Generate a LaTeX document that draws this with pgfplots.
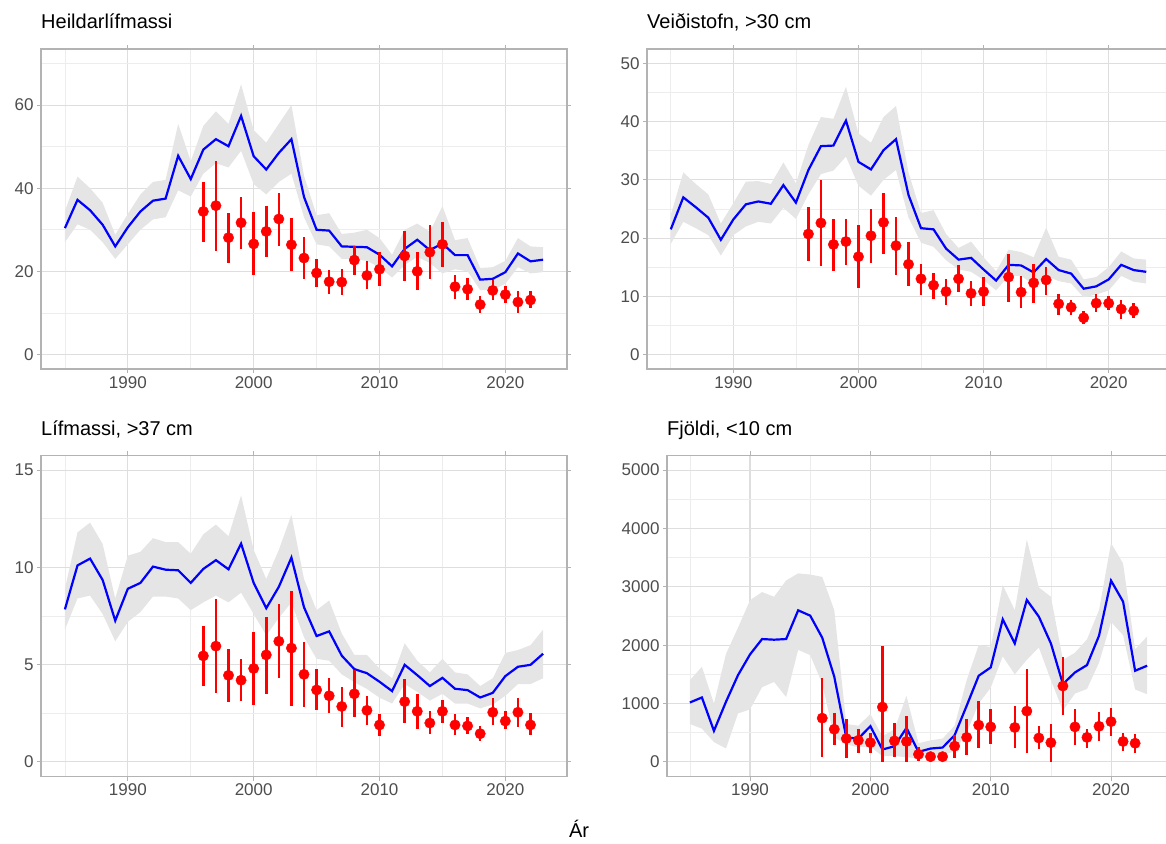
\documentclass[border=0pt]{standalone}
\usepackage{pgfplots}
\pgfplotsset{compat=1.18}
\usepackage{pgfplotstable}
\usepgfplotslibrary{fillbetween}
\usepackage{fontspec}
\setmainfont{Liberation Sans}

\definecolor{ribbon}{HTML}{E5E5E5}
\definecolor{gridmaj}{HTML}{DEDEDE}
\definecolor{gridmin}{HTML}{EDEDED}
\definecolor{border}{HTML}{B3B3B3}
\definecolor{ticktxt}{HTML}{4D4D4D}
\definecolor{lineblue}{HTML}{0000FF}
\definecolor{ptred}{HTML}{FF0000}

% model estimate with ribbon (yr, est, lo, hi)
\pgfplotstableread{
yr est lo hi
1985 30.4 27.0 34.5
1986 37.2 31.3 42.8
1987 34.7 30.0 40.0
1988 31.2 27.0 36.5
1989 26.0 23.0 28.8
1990 30.6 26.5 33.8
1991 34.4 30.0 38.5
1992 37.0 32.5 41.5
1993 37.5 33.0 42.0
1994 47.8 39.5 55.5
1995 42.2 38.0 46.5
1996 49.3 43.5 55.0
1997 51.8 46.0 58.5
1998 50.1 45.0 55.5
1999 57.4 49.0 65.0
2000 47.7 41.0 54.0
2001 44.5 38.5 51.0
2002 48.5 41.5 55.5
2003 51.8 43.5 60.0
2004 37.9 33.0 43.0
2005 30.0 26.5 33.5
2006 29.8 26.0 34.0
2007 26.0 23.0 29.0
2008 25.9 23.0 29.3
2009 25.8 22.5 30.0
2010 24.0 21.0 28.0
2011 21.2 18.5 24.0
2012 25.4 21.5 30.0
2013 27.6 23.5 31.5
2014 25.1 22.0 29.5
2015 26.7 19.5 35.7
2016 23.9 20.5 27.5
2017 23.9 20.0 28.0
2018 18.0 15.5 20.8
2019 18.2 15.5 21.0
2020 19.8 17.0 22.5
2021 24.3 21.0 28.0
2022 22.4 19.5 26.0
2023 22.8 19.8 25.8
}\lineA
\pgfplotstableread{
yr val lo hi
1996 34.4 27.0 41.5
1997 35.8 25.0 46.6
1998 28.1 22.0 34.0
1999 31.7 25.3 38.0
2000 26.6 19.0 34.2
2001 29.6 23.5 35.7
2002 32.6 26.0 38.8
2003 26.4 20.2 32.8
2004 23.2 18.2 28.2
2005 19.6 16.3 22.9
2006 17.5 14.5 20.3
2007 17.4 14.3 20.5
2008 22.7 19.0 26.2
2009 19.0 15.8 22.4
2010 20.5 16.5 24.6
2012 23.7 17.6 29.8
2013 20.0 15.6 24.7
2014 24.6 18.1 31.1
2015 26.5 21.1 31.8
2016 16.3 13.3 19.2
2017 15.7 13.0 18.3
2018 12.0 10.0 14.0
2019 15.4 13.0 18.0
2020 14.4 12.5 16.5
2021 12.6 10.0 15.3
2022 13.1 11.2 15.3
}\ptsA

\pgfplotstableread{
yr est lo hi
1985 21.5 19.0 24.0
1986 27.0 22.8 31.3
1987 25.3 21.7 29.3
1988 23.5 20.5 27.5
1989 19.7 17.0 22.5
1990 23.2 20.5 26.0
1991 25.8 22.0 29.7
1992 26.3 22.8 29.8
1993 25.9 22.5 29.3
1994 29.1 25.2 33.0
1995 26.1 23.3 29.4
1996 31.7 27.5 36.0
1997 35.8 31.0 40.8
1998 35.9 31.6 40.5
1999 40.2 34.0 46.0
2000 33.1 29.0 38.0
2001 31.8 27.3 36.4
2002 35.1 30.0 40.8
2003 37.0 31.7 42.7
2004 27.4 23.5 31.3
2005 21.7 19.2 24.3
2006 21.5 18.5 24.8
2007 18.2 16.2 20.7
2008 16.3 14.6 18.3
2009 16.6 14.2 19.4
2010 14.6 12.8 16.7
2011 12.7 11.0 14.3
2012 15.4 13.5 18.0
2013 15.3 13.5 17.6
2014 14.1 12.0 16.7
2015 16.4 13.5 21.8
2016 14.5 12.6 16.8
2017 13.9 12.2 16.3
2018 11.3 9.8 12.9
2019 11.7 10.3 13.3
2020 12.9 11.0 15.0
2021 15.4 13.5 17.7
2022 14.5 12.5 16.5
2023 14.2 12.2 16.3
}\lineB
\pgfplotstableread{
yr val lo hi
1996 20.7 16.0 25.3
1997 22.6 15.2 30.0
1998 18.9 14.3 23.3
1999 19.4 15.3 23.3
2000 16.8 11.4 22.2
2001 20.4 15.7 25.0
2002 22.7 17.3 27.8
2003 18.7 13.7 23.6
2004 15.5 11.7 19.3
2005 13.0 10.3 15.6
2006 11.9 9.5 14.0
2007 10.8 8.5 13.0
2008 13.0 10.7 15.4
2009 10.5 8.4 12.6
2010 10.8 8.3 13.3
2012 13.3 9.1 17.3
2013 10.7 7.9 13.5
2014 12.3 8.9 15.5
2015 12.8 10.2 15.1
2016 8.7 6.8 10.4
2017 8.1 6.8 9.4
2018 6.3 5.3 7.4
2019 8.8 7.3 10.4
2020 8.8 7.6 10.1
2021 7.8 6.1 9.3
2022 7.5 6.2 8.8
}\ptsB

\pgfplotstableread{
yr est lo hi
1985 7.84 6.8 8.9
1986 10.10 8.4 11.8
1987 10.45 8.55 12.3
1988 9.35 7.6 11.2
1989 7.26 6.2 8.4
1990 8.90 7.2 10.6
1991 9.20 7.7 10.8
1992 10.04 8.5 11.5
1993 9.88 8.5 11.3
1994 9.85 8.4 11.3
1995 9.20 7.8 10.7
1996 9.92 8.2 11.7
1997 10.37 8.55 12.2
1998 9.90 8.2 11.6
1999 11.22 8.7 13.7
2000 9.20 7.6 10.9
2001 7.90 6.5 9.4
2002 9.00 7.4 10.9
2003 10.50 8.2 12.7
2004 7.95 6.4 9.4
2005 6.47 5.3 7.8
2006 6.71 5.2 8.3
2007 5.46 4.5 6.6
2008 4.77 4.1 5.5
2009 4.56 3.75 5.5
2010 4.12 3.3 4.8
2011 3.64 3.0 4.3
2012 4.99 4.0 6.1
2013 4.46 3.6 5.2
2014 3.90 3.15 4.6
2015 4.32 3.5 5.3
2016 3.76 3.0 4.6
2017 3.69 3.0 4.5
2018 3.31 2.75 3.9
2019 3.55 2.95 4.3
2020 4.41 3.4 5.6
2021 4.89 4.0 5.75
2022 4.99 4.0 6.0
2023 5.56 4.3 6.8
}\lineC
\pgfplotstableread{
yr val lo hi
1996 5.45 3.9 7.0
1997 5.95 3.55 8.35
1998 4.45 3.1 5.8
1999 4.20 3.15 5.3
2000 4.80 2.95 6.7
2001 5.50 3.5 7.45
2002 6.20 4.3 8.1
2003 5.85 2.85 8.8
2004 4.50 2.8 6.15
2005 3.70 2.65 4.75
2006 3.40 2.5 4.3
2007 2.85 1.8 3.85
2008 3.50 2.3 4.7
2009 2.65 1.9 3.4
2010 1.90 1.35 2.45
2012 3.10 2.0 4.25
2013 2.60 1.7 3.5
2014 2.00 1.45 2.6
2015 2.60 2.0 3.2
2016 1.90 1.4 2.45
2017 1.85 1.45 2.3
2018 1.45 1.1 1.85
2019 2.55 1.9 3.3
2020 2.10 1.7 2.6
2021 2.55 1.8 3.3
2022 1.90 1.4 2.5
}\ptsC

\pgfplotstableread{
yr est lo hi
1985 1018 650 1400
1986 1104 570 1630
1987 532 340 1000
1988 1030 230 1850
1989 1487 830 2300
1990 1842 900 2770
1991 2105 1280 2910
1992 2094 1370 2830
1993 2105 1110 3110
1994 2597 1920 3230
1995 2506 1830 3210
1996 2128 1340 3170
1997 1459 420 2600
1998 418 300 650
1999 400 250 620
2000 612 260 820
2001 212 100 440
2002 269 100 560
2003 583 80 1130
2004 172 60 320
2005 229 100 370
2006 246 120 400
2007 458 180 620
2008 961 500 1400
2009 1476 1000 2000
2010 1619 1270 1970
2011 2443 1810 3030
2012 2031 1500 2600
2013 2775 1750 3810
2014 2489 1960 2990
2015 2031 1400 2830
2016 1333 880 1750
2017 1533 1170 1870
2018 1659 1250 2100
2019 2162 1700 2600
2020 3106 2400 3750
2021 2746 2170 3400
2022 1562 1240 1930
2023 1648 1160 2150
}\lineD
\pgfplotstableread{
yr val lo hi
1996 750 80 1430
1997 560 290 830
1998 400 70 730
1999 370 160 570
2000 330 150 500
2001 940 0 1980
2002 360 80 660
2003 350 0 780
2004 130 20 260
2005 90 40 150
2006 90 40 150
2007 270 70 460
2008 420 110 740
2009 630 230 1040
2010 600 300 910
2012 590 230 960
2013 870 150 1590
2014 410 220 610
2015 330 0 650
2016 1300 800 1790
2017 600 290 900
2018 420 240 570
2019 610 360 850
2020 690 440 930
2021 350 190 500
2022 320 150 470
}\ptsD

\pgfplotsset{
  panel/.style={
    scale only axis, anchor=south west,
    xmin=1983.1, xmax=2024.9,
    xtick={1990,2000,2010,2020},
    minor xtick={1985,1995,2005,2015},
    grid=both,
    major grid style={line width=1.1pt, draw=gridmaj},
    minor grid style={line width=0.7pt, draw=gridmin},
    axis line style={draw=border, line width=1.3pt},
    tick align=outside, major tick length=4pt, minor tick length=0pt,
    tick style={draw=border, line width=1pt},
    tick label style={font=\fontsize{17}{20}\selectfont, color=ticktxt},
    /pgf/number format/assume math mode=true,
    /pgf/number format/1000 sep={},
    title style={at={(rel axis cs:0,1)}, anchor=base west, yshift=14pt,
      inner sep=0pt, font=\fontsize{20}{24}\selectfont},
  },
  rib/.style={draw=none, forget plot},
  est/.style={lineblue, line width=2.2pt, no marks},
  pts/.style={only marks, mark=*, mark size=5.2pt,
    mark options={draw=ptred, fill=ptred},
    error bars/.cd, y dir=both, y explicit, error mark=none,
    error bar style={draw=ptred, line width=2.5pt}},
}

\newcommand{\series}[3]{%
  \addplot[rib, name path=hi#3] table[x=yr, y=hi] {#1};
  \addplot[rib, name path=lo#3] table[x=yr, y=lo] {#1};
  \addplot[fill=ribbon, draw=none] fill between[of=hi#3 and lo#3];
  \addplot[est] table[x=yr, y=est] {#1};
  \addplot[pts] table[x=yr, y=val,
    y error plus expr=\thisrow{hi}-\thisrow{val},
    y error minus expr=\thisrow{val}-\thisrow{lo}] {#2};
}

\begin{document}
\begin{tikzpicture}

\begin{axis}[panel, at={(41pt,474pt)}, width=526pt, height=320pt,
  ymin=-3.5, ymax=73.5, ytick={0,20,40,60}, minor ytick={10,30,50,70},
  title={Heildarlífmassi}]
\series{\lineA}{\ptsA}{A}
\end{axis}

\begin{axis}[panel, at={(647pt,474pt)}, width=523pt, height=320pt,
  ymin=-2.5, ymax=52.5, ytick={0,10,20,30,40,50}, minor ytick={5,15,25,35,45},
  title={Veiðistofn, >30 cm}]
\series{\lineB}{\ptsB}{B}
\end{axis}

\begin{axis}[panel, at={(41pt,66.5pt)}, width=526pt, height=321pt,
  ymin=-0.75, ymax=15.75, ytick={0,5,10,15}, minor ytick={2.5,7.5,12.5},
  title={Lífmassi, >37 cm}]
\series{\lineC}{\ptsC}{C}
\end{axis}

\begin{axis}[panel, at={(667pt,66.5pt)}, width=503pt, height=321pt,
  ymin=-250, ymax=5250, ytick={0,1000,2000,3000,4000,5000},
  minor ytick={500,1500,2500,3500,4500},
  title={Fjöldi, <10 cm}]
\series{\lineD}{\ptsD}{D}
\end{axis}

\node[anchor=base, font=\fontsize{20}{24}\selectfont, inner sep=0pt]
  at (579pt,6pt) {Ár};

\pgfresetboundingbox
\path[use as bounding box] (0pt,0pt) rectangle (1166pt,843pt);
\end{tikzpicture}
\end{document}
